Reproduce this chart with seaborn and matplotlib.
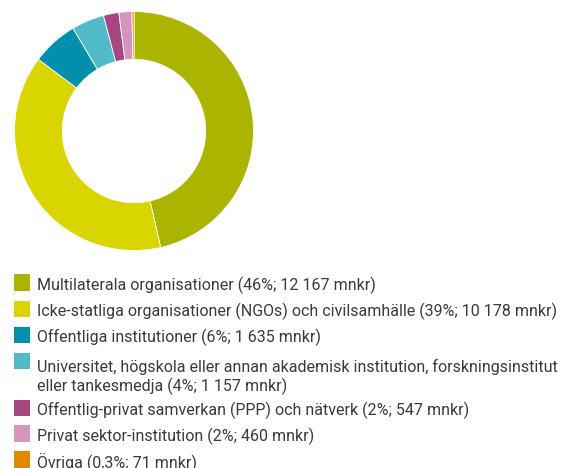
import matplotlib
matplotlib.use("Agg")
import matplotlib.pyplot as plt
import seaborn as sns
from matplotlib.patches import Rectangle

# recipients of aid, values in mnkr
categories = [
    "Multilaterala organisationer",
    "Icke-statliga organisationer (NGOs) och civilsamhälle",
    "Offentliga institutioner",
    "Universitet, högskola eller annan akademisk institution, forskningsinstitut\neller tankesmedja",
    "Offentlig-privat samverkan (PPP) och nätverk",
    "Privat sektor-institution",
    "Övriga",
]
shares = ["46%", "39%", "6%", "4%", "2%", "2%", "0,3%"]
values = [12167, 10178, 1635, 1157, 547, 460, 71]
value_labels = ["12 167", "10 178", "1 635", "1 157", "547", "460", "71"]

colors = sns.color_palette([
    "#abb400", "#d8d500", "#0090ae", "#50bac9",
    "#a6477f", "#d595bf", "#e08800",
])

sns.set_theme(style="white")
plt.rcParams['font.family'] = ['Roboto', 'DejaVu Sans']

W, H = 565, 468
fig = plt.figure(figsize=(W / 100, H / 100), dpi=100)

# donut
cx, cy, r = 134, 131, 119.5
ax = fig.add_axes([(cx - r) / W, (H - cy - r) / H, 2 * r / W, 2 * r / H])
ax.pie(
    values,
    colors=colors,
    startangle=90,
    counterclock=False,
    wedgeprops=dict(width=0.4, edgecolor="white", linewidth=0.6),
)
ax.set_xlim(-1, 1)
ax.set_ylim(-1, 1)
ax.set_aspect("equal")

# legend below the donut
row_tops = [274, 300.5, 326.5, 352.5, 399.5, 425, 451]
sq = 16.5
for i, top in enumerate(row_tops):
    fig.patches.append(Rectangle(
        (13.5 / W, (H - top - sq) / H), sq / W, sq / H,
        transform=fig.transFigure, facecolor=colors[i], edgecolor="none",
    ))
    label = f"{categories[i]} ({shares[i]}; {value_labels[i]} mnkr)"
    extra = label.count("\n") * 22.5
    fig.text(37 / W, (H - top - sq + 0.5 - extra) / H, label,
             fontsize=11.5, color="#3a3a3a", va="baseline", ha="left",
             linespacing=1.22)

fig.savefig("out.png", dpi=100)
